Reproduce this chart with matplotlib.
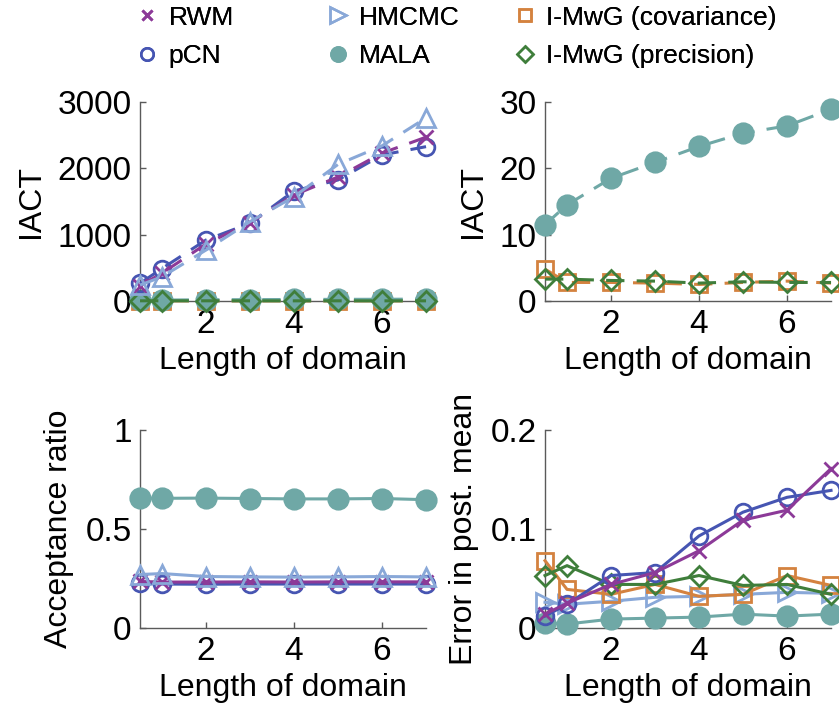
import matplotlib
matplotlib.use('Agg')
import matplotlib.pyplot as plt
from matplotlib.lines import Line2D

plt.rcParams['font.family'] = ['Liberation Sans', 'DejaVu Sans']

L = [0.5, 1, 2, 3, 4, 5, 6, 7]

# IACT
iact_rwm = [230, 420, 860, 1180, 1600, 1870, 2230, 2470]
iact_pcn = [267, 490, 920, 1172, 1660, 1825, 2202, 2327]
iact_hmc = [240, 366, 769, 1196, 1573, 2060, 2340, 2760]
iact_mala = [11.5, 14.5, 18.5, 20.9, 23.3, 25.3, 26.4, 28.9]
iact_cov = [4.8, 2.8, 2.8, 2.7, 2.5, 2.8, 3.0, 2.7]
iact_prec = [3.3, 3.3, 3.1, 3.0, 2.7, 2.9, 2.8, 2.8]

# acceptance ratio
acc_rwm = [0.235, 0.232, 0.232, 0.233, 0.232, 0.233, 0.233, 0.233]
acc_pcn = [0.225, 0.222, 0.221, 0.222, 0.222, 0.222, 0.222, 0.222]
acc_hmc = [0.27, 0.275, 0.26, 0.258, 0.257, 0.258, 0.26, 0.258]
acc_mala = [0.655, 0.655, 0.656, 0.654, 0.652, 0.652, 0.654, 0.648]

# error in posterior mean
err_rwm = [0.014, 0.025, 0.044, 0.056, 0.078, 0.109, 0.119, 0.161]
err_pcn = [0.012, 0.024, 0.053, 0.056, 0.093, 0.117, 0.132, 0.139]
err_hmc = [0.026, 0.024, 0.027, 0.031, 0.032, 0.034, 0.036, 0.035]
err_mala = [0.005, 0.004, 0.009, 0.010, 0.011, 0.014, 0.012, 0.014]
err_cov = [0.068, 0.039, 0.034, 0.044, 0.032, 0.034, 0.053, 0.043]
err_prec = [0.053, 0.063, 0.044, 0.044, 0.053, 0.043, 0.044, 0.034]

c_rwm = '#8C3A98'
c_pcn = '#4655B2'
c_hmc = '#89A8D8'
c_mala = '#6FA8A6'
c_cov = '#D4823F'
c_prec = '#3F7E3B'

TS = 24   # tick labels
LS = 23   # axis labels
fig = plt.figure(figsize=(8.39, 7.25), dpi=100)
w = 0.3409
ax1 = fig.add_axes([0.1669, 0.5848, w, 0.2745])
ax2 = fig.add_axes([0.6496, 0.5848, w, 0.2745])
ax3 = fig.add_axes([0.1669, 0.1338, w, 0.2731])
ax4 = fig.add_axes([0.6496, 0.1338, w, 0.2731])


def style(ax, ylabel, yticks, yticklabels):
    ax.set_xlim(0.5, 7)
    ax.set_ylim(yticks[0], yticks[-1])
    ax.set_xticks([2, 4, 6])
    ax.set_yticks(yticks)
    ax.set_yticklabels(yticklabels)
    for s in ['top', 'right']:
        ax.spines[s].set_visible(False)
    for s in ['left', 'bottom']:
        ax.spines[s].set_color('#5a5a5a')
        ax.spines[s].set_linewidth(1.0)
    ax.tick_params(direction='in', length=4, width=1.0, color='#5a5a5a',
                   labelsize=TS, pad=6)
    ax.set_xlabel('Length of domain', fontsize=LS, labelpad=4)
    ax.set_ylabel(ylabel, fontsize=LS, labelpad=8)


def plot(ax, y, c, m, ls, ms=12, fill=False):
    ax.plot(L, y, color=c, linestyle=ls, linewidth=2.2, marker=m,
            markersize=ms, markerfacecolor=c if fill else 'none',
            markeredgecolor=c, markeredgewidth=2.0, clip_on=False,
            dashes=(6, 4) if ls == '--' else (None, None), zorder=3)


plot(ax1, iact_cov, c_cov, 's', '--', ms=11)
plot(ax1, iact_mala, c_mala, 'o', '--', ms=14, fill=True)
plot(ax1, iact_prec, c_prec, 'D', '--', ms=10)
plot(ax1, iact_pcn, c_pcn, 'o', '--')
plot(ax1, iact_rwm, c_rwm, 'x', '--', ms=10)
plot(ax1, iact_hmc, c_hmc, '^', '--', ms=13)
style(ax1, 'IACT', [0, 1000, 2000, 3000], ['0', '1000', '2000', '3000'])

plot(ax2, iact_mala, c_mala, 'o', '--', ms=14, fill=True)
plot(ax2, iact_cov, c_cov, 's', '--', ms=11)
plot(ax2, iact_prec, c_prec, 'D', '--', ms=10)
style(ax2, 'IACT', [0, 10, 20, 30], ['0', '10', '20', '30'])

plot(ax3, acc_mala, c_mala, 'o', '-', ms=14, fill=True)
plot(ax3, acc_pcn, c_pcn, 'o', '-')
plot(ax3, acc_rwm, c_rwm, 'x', '-', ms=10)
plot(ax3, acc_hmc, c_hmc, '^', '-', ms=13)
style(ax3, 'Acceptance ratio', [0, 0.5, 1], ['0', '0.5', '1'])

plot(ax4, err_mala, c_mala, 'o', '-', ms=14, fill=True)
plot(ax4, err_hmc, c_hmc, '>', '-', ms=13)
plot(ax4, err_cov, c_cov, 's', '-', ms=11)
plot(ax4, err_prec, c_prec, 'D', '-', ms=10)
plot(ax4, err_pcn, c_pcn, 'o', '-')
plot(ax4, err_rwm, c_rwm, 'x', '-', ms=10)
style(ax4, 'Error in post. mean', [0, 0.1, 0.2], ['0', '0.1', '0.2'])

# legend: three equal-width columns
cols = [
    ([Line2D([], [], ls='none', marker='x', color=c_rwm, ms=7, mew=2),
      Line2D([], [], ls='none', marker='o', color=c_pcn, mfc='none', ms=9, mew=1.8)],
     ['RWM', 'pCN'], 0.160),
    ([Line2D([], [], ls='none', marker='>', color=c_hmc, mfc='none', ms=11, mew=1.8),
      Line2D([], [], ls='none', marker='o', color=c_mala, ms=11)],
     ['HMCMC', 'MALA'], 0.387),
    ([Line2D([], [], ls='none', marker='s', color=c_cov, mfc='none', ms=8, mew=1.8),
      Line2D([], [], ls='none', marker='D', color=c_prec, mfc='none', ms=8, mew=1.8)],
     ['I-MwG (covariance)', 'I-MwG (precision)'], 0.610),
]
for hs, labs, x0 in cols:
    leg = fig.legend(hs, labs, loc='upper left', bbox_to_anchor=(x0, 0.996),
                     frameon=False, fontsize=19, handlelength=0.8,
                     handletextpad=0.4, labelspacing=0.55, borderpad=0.1,
                     borderaxespad=0.0)
    fig.add_artist(leg)

fig.savefig('out.png', dpi=100)
